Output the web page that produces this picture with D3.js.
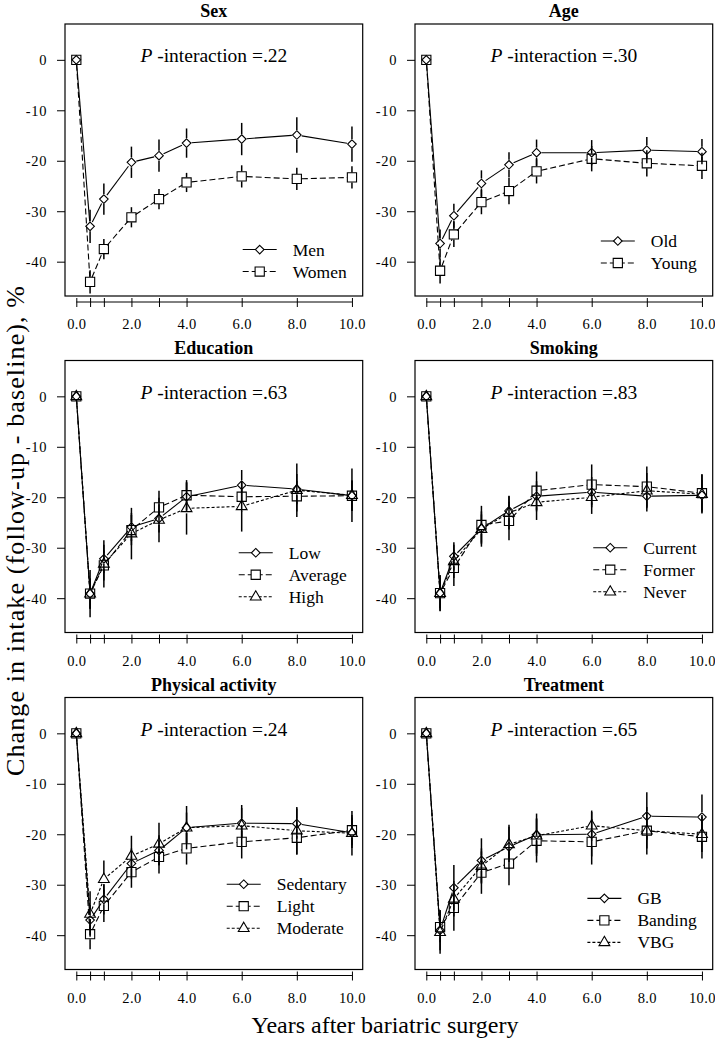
<!DOCTYPE html>
<html><head><meta charset="utf-8">
<script src="https://cdn.jsdelivr.net/npm/d3@7"></script>
<style>
body{margin:0;background:#fff}
svg{display:block}
text{font-family:"Liberation Serif","Times New Roman",serif;fill:#000}
</style>
</head><body>
<svg id="c" width="715" height="1050"></svg>
<script>
// ---------- data ----------
const years = [0, 0.5, 1, 2, 3, 4, 6, 8, 10];
const xTickLabels = ["0.0", "", "", "2.0", "", "4.0", "6.0", "8.0", "10.0"];
const yTicks = [0, -10, -20, -30, -40];
const panelTitles = ["Sex", "Age", "Education", "Smoking", "Physical activity", "Treatment"];
const pInteraction = [".22", ".30", ".63", ".83", ".24", ".65"];

const sexGroups = ["Men", "Women"];
const sexMen = [0, -33.0, -27.6, -20.3, -19.0, -16.5, -15.7, -14.9, -16.7];
const sexMenErr = [0, 3.3, 3.1, 3.1, 3.2, 2.9, 3.2, 3.5, 3.5];
const sexWomen = [0, -44.0, -37.5, -31.2, -27.6, -24.3, -23.1, -23.6, -23.3];
const sexWomenErr = [0, 2.3, 2.0, 2.0, 2.0, 1.9, 2.2, 2.2, 2.2];

const ageGroups = ["Old", "Young"];
const ageOld = [0, -36.4, -30.9, -24.5, -20.8, -18.4, -18.4, -17.9, -18.2];
const ageOldErr = [0, 2.8, 2.4, 2.6, 2.5, 2.6, 2.5, 2.6, 2.5];
const ageYoung = [0, -41.8, -34.6, -28.2, -26.0, -22.1, -19.6, -20.5, -21.0];
const ageYoungErr = [0, 2.5, 2.5, 2.4, 2.6, 2.4, 2.5, 2.6, 2.6];

const eduGroups = ["Low", "Average", "High"];
const eduLow = [0, -39.1, -32.2, -25.9, -24.2, -19.9, -17.6, -18.4, -19.7];
const eduLowErr = [0, 3.0, 2.8, 2.8, 2.8, 2.8, 3.0, 3.0, 3.0];
const eduAverage = [0, -39.1, -33.5, -26.5, -22.0, -19.6, -19.9, -19.8, -19.7];
const eduAverageErr = [0, 3.0, 3.0, 3.0, 3.3, 3.0, 3.0, 3.0, 3.0];
const eduHigh = [0, -39.1, -33.2, -27.2, -24.5, -22.2, -21.8, -18.6, -19.6];
const eduHighErr = [0, 4.7, 4.7, 5.1, 4.4, 5.2, 5.0, 5.3, 5.3];

const smkGroups = ["Current", "Former", "Never"];
const smkCurrent = [0, -39.0, -31.7, -26.2, -22.7, -19.8, -19.0, -19.8, -19.6];
const smkCurrentErr = [0, 3.0, 2.8, 2.8, 3.0, 3.0, 3.0, 3.0, 3.0];
const smkFormer = [0, -39.0, -34.0, -25.5, -24.7, -18.7, -17.5, -17.9, -19.2];
const smkFormerErr = [0, 3.6, 3.6, 3.8, 3.8, 3.8, 4.0, 4.0, 3.8];
const smkNever = [0, -39.0, -32.7, -26.3, -23.1, -21.0, -20.0, -18.7, -19.4];
const smkNeverErr = [0, 3.5, 3.3, 3.5, 3.3, 3.5, 3.3, 3.5, 3.8];

const paGroups = ["Sedentary", "Light", "Moderate"];
const paSedentary = [0, -37.0, -32.9, -25.8, -23.2, -18.7, -17.8, -17.9, -19.7];
const paSedentaryErr = [0, 3.0, 3.0, 3.0, 3.0, 3.0, 3.0, 3.0, 3.0];
const paLight = [0, -39.8, -34.2, -27.5, -24.5, -22.8, -21.5, -20.7, -19.2];
const paLightErr = [0, 3.0, 3.2, 3.1, 3.3, 3.2, 3.3, 3.3, 3.0];
const paModerate = [0, -35.8, -28.9, -24.3, -21.9, -18.7, -18.3, -19.3, -19.8];
const paModerateErr = [0, 4.5, 3.7, 4.0, 4.2, 4.3, 4.1, 4.7, 4.4];

const trtGroups = ["GB", "Banding", "VBG"];
const trtGB = [0, -39.0, -30.6, -25.2, -22.5, -20.1, -20.0, -16.4, -16.6];
const trtGBErr = [0, 4.0, 4.5, 4.4, 4.4, 4.2, 4.4, 4.7, 4.5];
const trtBanding = [0, -38.4, -34.6, -27.6, -25.8, -21.3, -21.5, -19.3, -20.5];
const trtBandingErr = [0, 3.0, 4.5, 4.2, 4.3, 4.3, 4.5, 4.7, 4.3];
const trtVBG = [0, -39.4, -32.8, -26.3, -22.0, -20.3, -18.3, -19.3, -20.0];
const trtVBGErr = [0, 4.3, 3.5, 3.5, 3.5, 3.5, 3.0, 3.5, 3.5];

// legend anchor (first row, in data units of y) for each panel
const legendTopY = [-37.6, -35.9, -31.0, -30.0, -29.9, -32.7];

const panels = [
  {groups: sexGroups, means: [sexMen, sexWomen], errs: [sexMenErr, sexWomenErr]},
  {groups: ageGroups, means: [ageOld, ageYoung], errs: [ageOldErr, ageYoungErr]},
  {groups: eduGroups, means: [eduLow, eduAverage, eduHigh], errs: [eduLowErr, eduAverageErr, eduHighErr]},
  {groups: smkGroups, means: [smkCurrent, smkFormer, smkNever], errs: [smkCurrentErr, smkFormerErr, smkNeverErr]},
  {groups: paGroups, means: [paSedentary, paLight, paModerate], errs: [paSedentaryErr, paLightErr, paModerateErr]},
  {groups: trtGroups, means: [trtGB, trtBanding, trtVBG], errs: [trtGBErr, trtBandingErr, trtVBGErr]}
];

// ---------- layout ----------
const colLeft = [65, 415], boxW = 297.7;
const rowTop = [24, 360.5, 697.5], boxH = 272;
const dashes = [null, "6,3", "3,2"];
const GAP = 5;

function symbolPath(k) {
  if (k === 0) { const r = 4.3; return `M0,${-r}L${r},0L0,${r}L${-r},0Z`; }
  if (k === 1) { const s = 4.6; return `M${-s},${-s}h${2*s}v${2*s}h${-2*s}Z`; }
  return "M0,-6L5.4,3.3L-5.4,3.3Z";
}

const svg = d3.select("#c");

panels.forEach((p, i) => {
  const col = i % 2, row = Math.floor(i / 2);
  const L = colLeft[col], T = rowTop[row];
  const x = d3.scaleLinear().domain([-0.41, 10.39]).range([L, L + boxW]);
  const y = d3.scaleLinear().domain([-46.8, 7.1]).range([T + boxH, T]);
  const g = svg.append("g");

  g.append("rect").attr("x", L).attr("y", T).attr("width", boxW).attr("height", boxH)
    .attr("fill", "none").attr("stroke", "#000").attr("stroke-width", 1.2);

  // x axis
  const xa = g.append("g").attr("transform", `translate(0,${T + boxH + 6})`)
    .call(d3.axisBottom(x).tickValues(years)
      .tickFormat(d => xTickLabels[years.indexOf(d)]).tickSize(5).tickSizeOuter(0));
  xa.attr("font-family", null).attr("font-size", null);
  xa.select(".domain").remove();
  xa.append("line").attr("x1", x(0)).attr("x2", x(10)).attr("stroke", "#000");
  xa.selectAll(".tick line").attr("y1", -4);
  xa.selectAll("text").attr("y", 27).attr("dy", null).style("font-size", "14.5px").style("letter-spacing", "0.4px");

  // y axis
  const ya = g.append("g").attr("transform", `translate(${L},0)`)
    .call(d3.axisLeft(y).tickValues(yTicks).tickFormat(d => String(d)).tickSize(8).tickSizeOuter(0));
  ya.attr("font-family", null).attr("font-size", null);
  ya.select(".domain").remove();
  ya.selectAll("text").attr("x", -18).attr("dy", "0.34em").style("font-size", "14.5px").style("letter-spacing", "0.6px");

  // title
  g.append("text").attr("x", L + boxW / 2).attr("y", T - 7).attr("text-anchor", "middle")
    .style("font-size", "18px").style("font-weight", "bold").text(panelTitles[i]);

  // P-interaction
  const pt = g.append("text").attr("x", L + boxW / 2).attr("y", T + 38).attr("text-anchor", "middle")
    .style("font-size", "19.5px");
  pt.append("tspan").style("font-style", "italic").text("P");
  pt.append("tspan").text(" -interaction =" + pInteraction[i]);

  // series
  p.means.forEach((m, k) => {
    const pts = years.map((yr, j) => [x(yr), y(m[j])]);
    for (let j = 0; j < pts.length - 1; j++) {
      const [x1, y1] = pts[j], [x2, y2] = pts[j + 1];
      const dx = x2 - x1, dy = y2 - y1, len = Math.hypot(dx, dy);
      if (len <= 2 * GAP) continue;
      const ux = dx / len, uy = dy / len;
      g.append("line")
        .attr("x1", x1 + ux * GAP).attr("y1", y1 + uy * GAP)
        .attr("x2", x2 - ux * GAP).attr("y2", y2 - uy * GAP)
        .attr("stroke", "#000").attr("stroke-width", 1.1)
        .attr("stroke-dasharray", dashes[k]);
    }
    years.forEach((yr, j) => {
      const e = p.errs[k][j];
      if (!e) return;
      const cx = x(yr), cy = y(m[j]), top = y(m[j] + e), bot = y(m[j] - e);
      if (cy - GAP > top) g.append("line").attr("x1", cx).attr("x2", cx).attr("y1", top).attr("y2", cy - GAP)
        .attr("stroke", "#000").attr("stroke-width", 1.5);
      if (bot > cy + GAP) g.append("line").attr("x1", cx).attr("x2", cx).attr("y1", cy + GAP).attr("y2", bot)
        .attr("stroke", "#000").attr("stroke-width", 1.5);
    });
    g.selectAll(null).data(pts).enter().append("path")
      .attr("transform", d => `translate(${d[0]},${d[1]})`)
      .attr("d", symbolPath(k)).attr("fill", "none").attr("stroke", "#000").attr("stroke-width", 1.1);
  });

  // legend
  const lg = g.append("g");
  const texts = p.groups.map((name, k) => lg.append("text").style("font-size", "17.5px").text(name));
  const maxW = d3.max(texts, t => t.node().getComputedTextLength());
  const lx = L + boxW - 16 - maxW - 50;
  const ly0 = y(legendTopY[i]);
  p.groups.forEach((name, k) => {
    const cy = ly0 + k * 22;
    lg.append("line").attr("x1", lx).attr("x2", lx + 34).attr("y1", cy).attr("y2", cy)
      .attr("stroke", "#000").attr("stroke-width", 1.1).attr("stroke-dasharray", dashes[k]);
    lg.append("path").attr("transform", `translate(${lx + 17},${cy})`).attr("d", symbolPath(k))
      .attr("fill", "#fff").attr("stroke", "#000").attr("stroke-width", 1.1);
    texts[k].attr("x", lx + 50).attr("y", cy + 6);
  });
});

// axis titles
svg.append("text").attr("x", 385).attr("y", 1033).attr("text-anchor", "middle")
  .style("font-size", "24px").text("Years after bariatric surgery");
svg.append("text").attr("transform", "translate(24,531) rotate(-90)").attr("text-anchor", "middle")
  .attr("textLength", 490).attr("lengthAdjust", "spacing")
  .style("font-size", "26px").text("Change in intake (follow-up - baseline), %");
</script>
</body></html>
